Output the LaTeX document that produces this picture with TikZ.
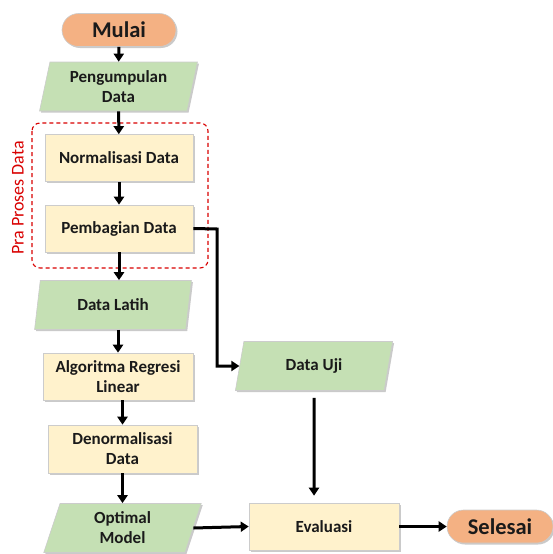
\documentclass[tikz,border=0pt]{standalone}
\usepackage{fontspec}
\setmainfont{Carlito}
\usetikzlibrary{shapes.geometric,shapes.misc,shadows,arrows.meta}
\definecolor{orng}{HTML}{F4B183}
\definecolor{grn}{HTML}{C5E0B4}
\definecolor{ylw}{HTML}{FFF2CC}
\definecolor{txt}{HTML}{1A1A1A}
\begin{document}
\begin{tikzpicture}[x=1pt,y=-1pt,
  shd/.style={drop shadow={shadow xshift=1.5pt,shadow yshift=-1.5pt,opacity=0.35,fill=black!60}},
  base/.style={draw=black!20,line width=0.6pt,shd,text=txt,font=\bfseries\fontsize{17}{20}\selectfont,align=center,inner sep=0pt},
  term/.style={base,rounded rectangle,fill=orng,font=\bfseries\fontsize{22.5}{26}\selectfont,minimum height=33pt},
  io/.style={base,trapezium,trapezium left angle=77,trapezium right angle=103,trapezium stretches=true,fill=grn,minimum width=158pt,minimum height=49pt},
  proc/.style={base,rectangle,fill=ylw,minimum width=148pt,minimum height=47pt},
  arr/.style={line width=3pt,-{Triangle[length=8pt,width=10pt]}}]
\useasboundingbox (0,0) rectangle (553,554);
\node[term,minimum width=114pt] (mulai) at (119,30) {Mulai};
\node[io] (peng) at (118.5,86.5) {Pengumpulan\\Data};
\node[proc] (norm) at (119,158) {Normalisasi Data};
\node[proc] (pemb) at (119,228.5) {Pembagian Data};
\node[io] (latih) at (113,305) {Data Latih};
\node[proc,minimum width=150pt] (algo) at (118,376.5) {Algoritma Regresi\\Linear};
\node[proc,minimum width=149pt,minimum height=48pt] (denorm) at (122.5,449) {Denormalisasi\\Data};
\node[io] (optimal) at (122.5,528) {Optimal\\Model};
\node[io] (uji) at (314,366) {Data Uji};
\node[proc,minimum width=150pt] (eval) at (324,526.5) {Evaluasi};
\node[term,minimum width=106pt] (selesai) at (500,526.5) {Selesai};
\draw[red!85!black,dashed,line width=1.1pt,dash pattern=on 4pt off 3pt,rounded corners=8pt] (32,123) rectangle (208,268);
\node[rotate=90,text=red!85!black,font=\fontsize{18}{20}\selectfont] (pra) at (18,198) {Pra Proses Data};
\coordinate (bend1) at (217,229);
\coordinate (bend2) at (217,366);
\draw[arr] (mulai) -- (peng);
\draw[arr] (peng) -- (norm);
\draw[arr] (norm) -- (pemb);
\draw[arr] (pemb.south) -- (pemb.south |- latih.north);
\draw[arr] (latih.south -| algo.north) -- (algo);
\draw[arr] (algo.south -| denorm.north) -- (denorm);
\draw[arr] (denorm.south) -- (denorm.south |- optimal.north);
\draw[arr] (pemb.east) -- (bend1) -- (bend2) -- (uji.west);
\draw[arr,shorten <=7pt,shorten >=7pt] (uji) -- (uji.south |- eval.north);
\draw[arr] (optimal.east) -- (eval.west);
\draw[arr] (eval) -- (selesai);
\end{tikzpicture}
\end{document}
